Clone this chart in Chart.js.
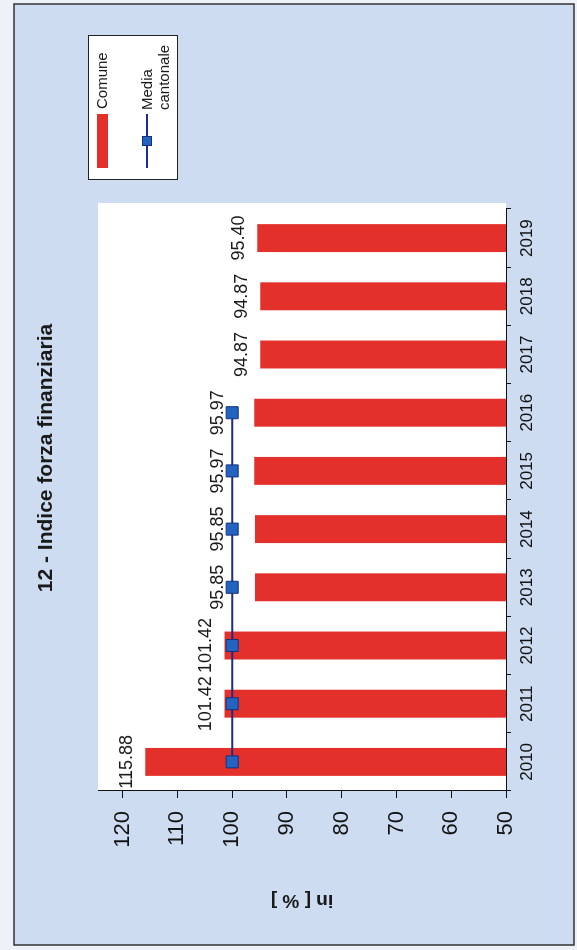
<!DOCTYPE html>
<html>
<head>
<meta charset="utf-8">
<script src="https://cdn.jsdelivr.net/npm/chart.js@4.4.1/dist/chart.umd.min.js"></script>
<style>
  html, body { margin: 0; padding: 0; background: #eef2f8; overflow: hidden; }
  body { width: 577px; height: 950px; position: relative; }
  /* the chart is laid out landscape and turned a quarter left */
  #wrap {
    position: absolute; left: 0; top: 0;
    width: 950px; height: 577px;
    transform-origin: 0 0;
    transform: translateY(950px) rotate(-90deg);
  }
</style>
</head>
<body>
<div id="wrap"><canvas id="chart" width="950" height="577"></canvas></div>
<script>
const FONT = "'Liberation Sans', Arial, Helvetica, sans-serif";

const years = ["2010", "2011", "2012", "2013", "2014", "2015", "2016", "2017", "2018", "2019"];
const comune = [115.88, 101.42, 101.42, 95.85, 95.85, 95.97, 95.97, 94.87, 94.87, 95.40];
const mediaCantonale = [100, 100, 100, 100, 100, 100, 100, null, null, null];
const valueTicks = [50, 60, 70, 80, 90, 100, 110, 120];

const titleText = "12 - Indice forza finanziaria";
const axisTitle = "in [ % ]";

const BAR_RED = "#e3302b";
const LINE_BLUE = "#1b2c90";
const MARK_BLUE = "#2363c2";
const PAPER = "#cddcf1";

// page frame, paper background and white plot area
const backdrop = {
  id: "backdrop",
  beforeDraw(chart) {
    const { ctx, chartArea: a } = chart;
    ctx.save();
    ctx.fillStyle = "#eef2f8";
    ctx.fillRect(0, 0, chart.width, chart.height);
    ctx.fillStyle = PAPER;
    ctx.fillRect(5, 14, 941, 560);
    ctx.strokeStyle = "#333";
    ctx.lineWidth = 1.5;
    ctx.strokeRect(5, 14, 941, 560);
    ctx.fillStyle = "#ffffff";
    ctx.fillRect(a.left, a.top, a.right - a.left + 6, a.bottom - a.top);
    ctx.restore();
  }
};

// title and the boxed legend on the right
const decorations = {
  id: "decorations",
  afterDraw(chart) {
    const { ctx } = chart;
    ctx.save();
    ctx.fillStyle = "#1a1a1a";
    ctx.font = "bold 21px " + FONT;
    ctx.textAlign = "center";
    ctx.textBaseline = "middle";
    ctx.fillText(titleText, 492, 46);

    // legend box
    ctx.fillStyle = "#ffffff";
    ctx.fillRect(770, 88, 144, 89);
    ctx.strokeStyle = "#222";
    ctx.lineWidth = 1;
    ctx.strokeRect(770.5, 88.5, 144, 89);

    ctx.fillStyle = BAR_RED;
    ctx.fillRect(782, 97, 54, 11);

    ctx.strokeStyle = LINE_BLUE;
    ctx.lineWidth = 2;
    ctx.beginPath();
    ctx.moveTo(782, 147);
    ctx.lineTo(836, 147);
    ctx.stroke();
    ctx.fillStyle = MARK_BLUE;
    ctx.fillRect(804, 142, 10, 10);
    ctx.strokeStyle = "#15307a";
    ctx.lineWidth = 1;
    ctx.strokeRect(804.5, 142.5, 9, 9);

    ctx.fillStyle = "#1a1a1a";
    ctx.font = "15px " + FONT;
    ctx.textAlign = "left";
    ctx.fillText("Comune", 841, 103);
    ctx.fillText("Media", 840, 148);
    ctx.fillText("cantonale", 840, 165);
    ctx.restore();
  }
};

// value labels above each bar, lifted clear of the average marker
const valueLabels = {
  id: "valueLabels",
  afterDatasetsDraw(chart) {
    const { ctx, scales } = chart;
    const x = scales.x, y = scales.y;
    ctx.save();
    ctx.fillStyle = "#1a1a1a";
    ctx.font = "18px " + FONT;
    ctx.textAlign = "center";
    ctx.textBaseline = "alphabetic";
    comune.forEach((v, i) => {
      let py = y.getPixelForValue(v) - 13;
      const m = mediaCantonale[i];
      if (m != null) py = Math.min(py, y.getPixelForValue(m) - 9);
      ctx.fillText(v.toFixed(2), x.getPixelForValue(i), py);
    });
    ctx.restore();
  }
};

new Chart(document.getElementById("chart"), {
  data: {
    labels: years,
    datasets: [
      {
        type: "line",
        label: "Media cantonale",
        data: mediaCantonale,
        borderColor: LINE_BLUE,
        borderWidth: 2,
        pointStyle: "rect",
        pointRadius: 8.5,
        pointBackgroundColor: MARK_BLUE,
        pointBorderColor: "#15307a",
        pointBorderWidth: 1,
        order: 1
      },
      {
        type: "bar",
        label: "Comune",
        data: comune,
        backgroundColor: BAR_RED,
        borderWidth: 0,
        categoryPercentage: 1,
        barPercentage: 0.48,
        order: 2
      }
    ]
  },
  options: {
    responsive: false,
    animation: false,
    devicePixelRatio: 1,
    layout: { padding: { left: 38, right: 209, top: 98, bottom: 31 } },
    plugins: {
      legend: { display: false },
      title: { display: false },
      tooltip: { enabled: false }
    },
    scales: {
      x: {
        offset: true,
        grid: { offset: true, drawOnChartArea: false, tickLength: 5, tickColor: "#111" },
        border: { color: "#111", width: 1 },
        ticks: { color: "#111", font: { family: FONT, size: 17 }, padding: 6, maxRotation: 0 },
        afterFit(s) { s.height = 40; }
      },
      y: {
        min: 50,
        max: 124.5,
        grid: { drawOnChartArea: false, tickLength: 7, tickColor: "#111" },
        border: { color: "#111", width: 1 },
        ticks: {
          stepSize: 10,
          includeBounds: false,
          color: "#111",
          padding: 13,
          font: { family: FONT, size: 22 },
          callback: v => (valueTicks.includes(v) ? String(v) : "")
        },
        title: {
          display: true,
          text: axisTitle,
          color: "#1a1a1a",
          font: { family: FONT, size: 19, weight: "bold" },
          padding: { top: 0, bottom: 0 }
        },
        afterFit(s) { s.width = 121; }
      }
    }
  },
  plugins: [backdrop, valueLabels, decorations]
});
</script>
</body>
</html>
